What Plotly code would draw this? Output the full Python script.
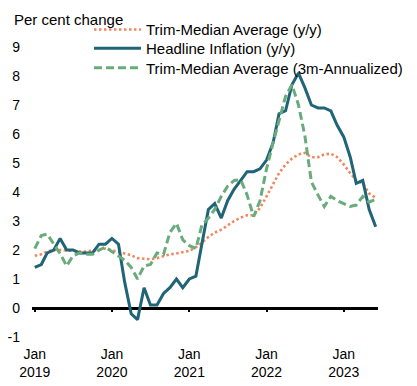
import pandas as pd
import plotly.graph_objects as go

months = pd.date_range("2019-01-01", "2023-06-01", freq="MS")

headline = [1.4, 1.5, 1.9, 2.0, 2.4, 2.0, 2.0, 1.9, 1.9, 1.9, 2.2, 2.2,
            2.4, 2.2, 0.9, -0.2, -0.4, 0.7, 0.1, 0.1, 0.5, 0.7, 1.0, 0.7,
            1.0, 1.1, 2.2, 3.4, 3.6, 3.1, 3.7, 4.1, 4.4, 4.7, 4.7, 4.8,
            5.1, 5.7, 6.7, 6.8, 7.7, 8.1, 7.6, 7.0, 6.9, 6.9, 6.8, 6.3,
            5.9, 5.2, 4.3, 4.4, 3.4, 2.8]

trim_median_yy = [1.8, 1.85, 1.95, 2.0, 2.0, 1.98, 1.95, 1.95, 1.95, 1.97, 2.0, 2.05,
                  2.0, 1.95, 1.88, 1.82, 1.72, 1.7, 1.68, 1.72, 1.8, 1.85, 1.88, 1.92,
                  1.97, 2.1, 2.25, 2.45, 2.6, 2.7, 2.85, 3.0, 3.12, 3.2, 3.2, 3.45,
                  3.85, 4.25, 4.65, 4.95, 5.15, 5.3, 5.35, 5.2, 5.2, 5.3, 5.32, 5.2,
                  4.95, 4.65, 4.4, 4.3, 3.95, 3.8]

trim_median_3m = [2.05, 2.5, 2.55, 2.2, 1.87, 1.45, 1.8, 1.9, 1.85, 1.85, 2.0, 2.1,
                  1.95, 1.8, 1.65, 1.4, 1.0, 1.45, 1.5, 1.9, 1.85, 2.6, 2.92, 2.35,
                  2.15, 2.05, 2.85, 3.1, 3.4, 3.85, 4.2, 4.4, 4.42, 3.9, 3.15, 3.7,
                  4.8, 5.7, 6.5, 7.3, 7.7, 7.0, 5.95, 4.35, 3.9, 3.5, 3.85, 3.7,
                  3.6, 3.5, 3.55, 3.85, 3.65, 3.75]

series_names = ["Trim-Median Average (y/y)", "Headline Inflation (y/y)",
                "Trim-Median Average (3m-Annualized)"]

tick_dates = ["2019-01-01", "2020-01-01", "2021-01-01", "2022-01-01", "2023-01-01"]
tick_labels = ["Jan<br>2019", "Jan<br>2020", "Jan<br>2021", "Jan<br>2022", "Jan<br>2023"]
y_ticks = [-1, 0, 1, 2, 3, 4, 5, 6, 7, 8, 9]
y_tick_labels = ["-1", "0", "1", "2", "3", "4", "5", "6", "7", "8", "9"]

FONT = "Liberation Sans, Arial, sans-serif"

fig = go.Figure()
fig.add_trace(go.Scatter(x=months, y=trim_median_yy, name=series_names[0], mode="lines",
                         legend="legend",
                         line=dict(color="#F0875F", width=2.6, dash="2.5px,2.5px")))
fig.add_trace(go.Scatter(x=months, y=headline, name=series_names[1], mode="lines",
                         legend="legend2",
                         line=dict(color="#1F6477", width=3)))
fig.add_trace(go.Scatter(x=months, y=trim_median_3m, name=series_names[2], mode="lines",
                         legend="legend3",
                         line=dict(color="#6AAB7B", width=3, dash="8px,4px")))
# invisible helper trace for the tick axis drawn on the zero line
fig.add_trace(go.Scatter(x=months, y=headline, xaxis="x2", mode="lines",
                         line=dict(width=0), showlegend=False, hoverinfo="skip", opacity=0))

xr = ["2018-12-19", "2023-06-12"]

def leg(ypos):
    return dict(xref="container", yref="container", x=0.198, y=ypos,
                xanchor="left", yanchor="top", bgcolor="rgba(0,0,0,0)",
                font=dict(size=15, family=FONT), itemwidth=47)

fig.update_layout(
    width=409, height=378,
    margin=dict(l=24, r=39, t=10, b=49, autoexpand=False),
    paper_bgcolor="white", plot_bgcolor="white",
    font=dict(family=FONT, size=14, color="black"),
    showlegend=True,
    legend=leg(0.9862),
    legend2=leg(0.9365),
    legend3=leg(0.8846),
    xaxis=dict(type="date", range=xr, tickvals=tick_dates, ticktext=tick_labels,
               showgrid=False, showline=False, zeroline=False, ticks="",
               ticklabelstandoff=7, tickfont=dict(size=14)),
    xaxis2=dict(type="date", range=xr, overlaying="x", anchor="free", position=1/11,
                side="bottom", tickvals=tick_dates, showticklabels=False,
                ticks="outside", ticklen=3, tickwidth=2, tickcolor="black",
                showgrid=False, showline=False, zeroline=False),
    yaxis=dict(range=[-1, 10], tickvals=y_ticks, ticktext=y_tick_labels,
               showgrid=False, showline=False,
               zeroline=True, zerolinecolor="black", zerolinewidth=3,
               ticks="", ticklabelstandoff=11, tickfont=dict(size=14)),
    annotations=[dict(text="Per cent change", xref="paper", yref="paper",
                      x=-0.058, y=1.0, xanchor="left", yanchor="middle", yshift=-1,
                      showarrow=False, font=dict(size=15, family=FONT))],
)

fig.write_html("out.html")
